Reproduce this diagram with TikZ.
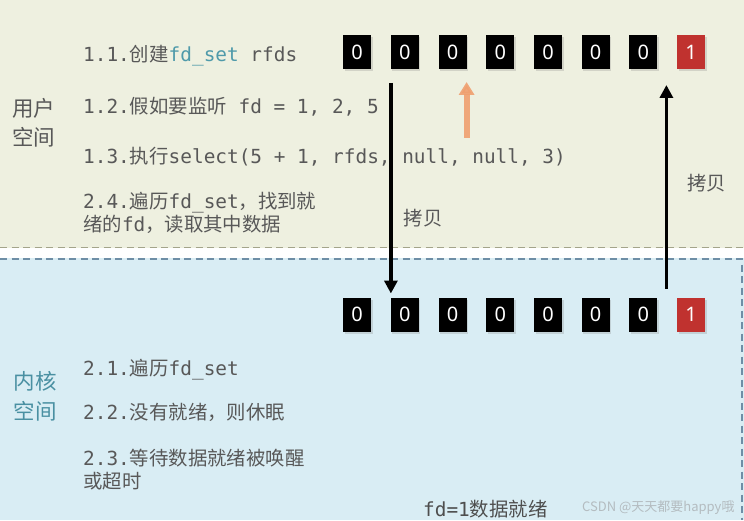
\documentclass[tikz,border=0pt]{standalone}
\usepackage{fontspec}
\setmonofont{DejaVu Sans Mono}
\newfontfamily\cjk{Noto Sans CJK SC}
\newfontfamily\cellfont{Noto Sans}
\usetikzlibrary{matrix, positioning, arrows.meta, shadows}
\definecolor{usrbg}{HTML}{EEF0E0}
\definecolor{kernbg}{HTML}{D9EDF4}
\definecolor{olivedash}{HTML}{A3A48A}
\definecolor{bluedash}{HTML}{6E8EA6}
\definecolor{textgray}{HTML}{585858}
\definecolor{readygray}{HTML}{4E4E4E}
\definecolor{fdteal}{HTML}{4F9AAA}
\definecolor{kernteal}{HTML}{4A90A2}
\definecolor{bitred}{HTML}{C0322F}
\definecolor{pullorange}{HTML}{F0A070}
\definecolor{markgray}{HTML}{B4BCC0}
\newcommand{\zh}[1]{{\cjk #1}}
\tikzset{
		bit nodes/.style={
			rectangle,
			fill=black,
			text=white,
			font=\cellfont\fontsize{20}{20}\selectfont,
			minimum width=28pt,
			minimum height=34pt,
			inner sep=0pt,
			outer sep=0pt,
			drop shadow={opacity=0.25, shadow xshift=1.5pt, shadow yshift=-2pt}
		},
		ready bit/.style={fill=bitred},
		bit row/.style={
			matrix of nodes,
			inner sep=0pt,
			column sep=19.7pt,
			nodes={
				bit nodes
			}
		},
		step text/.style={
			anchor=west,
			inner sep=0pt,
			align=left,
			text=textgray,
			font=\ttfamily\fontsize{19.4}{22.5}\selectfont
		},
		space label/.style={
			align=center,
			inner sep=0pt,
			font=\cjk\fontsize{21.5}{29.5}\selectfont
		},
		copy arrow/.style={line width=3.6pt, -{Triangle[length=13pt,width=13pt]}},
		copy label/.style={inner sep=0pt, text=textgray, font=\cjk\fontsize{19.4}{19.4}\selectfont},
		pull arrow/.style={line width=6pt, pullorange, opacity=0.9, -{Triangle[length=13pt,width=15pt]}},
		dashed border/.style={line width=1.5pt, dash pattern=on 7pt off 4.5pt}
	}
\begin{document}
\begin{tikzpicture}[x=1pt, y=-1pt]
			\useasboundingbox (0,0) rectangle (744,520);
			% user space and kernel space
			\fill[usrbg] (0,0) rectangle (744,248);
			\fill[white] (0,248) rectangle (744,258);
			\fill[kernbg] (0,258) rectangle (744,520);
			\draw[olivedash, dashed border] (0,247.5) -- (744,247.5);
			\draw[bluedash, dashed border] (0,259) -- (742,259) -- (742,520);
			\node[space label, text=textgray] (usrlbl) at (34,122.8) {用户\\空间};
			\node[space label, text=kernteal] (kernlbl) at (35,396.5) {内核\\空间};
			\node[step text] (s11) at (83,55.5) {1.1.\zh{创建}\textcolor{fdteal}{fd\_set} rfds};
			\node[step text] (s12) at (83,107) {1.2.\zh{假如要监听} fd = 1, 2, 5};
			\node[step text] (s13) at (83,157) {1.3.\zh{执行}select(5 + 1, rfds, null, null, 3)};
			\node[step text] (s24) at (83,213) {2.4.\zh{遍历}fd\_set\zh{，找到就}\\\zh{绪的}fd\zh{，读取其中数据}};
			\node[step text] (s21) at (83,370) {2.1.\zh{遍历}fd\_set};
			\node[step text] (s22) at (83,412) {2.2.\zh{没有就绪，则休眠}};
			\node[step text] (s23) at (83,469.5) {2.3.\zh{等待数据就绪被唤醒}\\\zh{或超时}};
			\node[step text, text=readygray] (ready) at (423,509) {fd=1\zh{数据就绪}};
			\node[anchor=west, inner sep=0pt, text=markgray, font=\cjk\fontsize{13}{13}\selectfont] (mark) at (582,508) {CSDN @天天都要happy哦};
			\matrix (user) [bit row, anchor=west] at (343,52)
				{ 0 & 0 & 0 & 0 & 0 & 0 & 0 & |[ready bit]| 1 \\};
			\matrix (kern) [bit row, anchor=west] at (343,314.5)
				{ 0 & 0 & 0 & 0 & 0 & 0 & 0 & |[ready bit]| 1 \\};
			\draw[copy arrow] ([yshift=-14pt]user-1-2.south west) -- ([yshift=4pt]kern-1-2.north west)
				node[copy label, pos=0.64, right=11pt] (cpdown) {拷贝};
			\draw[copy arrow] ([xshift=9pt, yshift=9pt]kern-1-7.north east) -- ([xshift=9pt, yshift=-16pt]user-1-7.south east)
				node[copy label, pos=0.52, right=19pt] (cpup) {拷贝};
			\coordinate (pulltail) at ([yshift=-69pt]user-1-3.south east);
			\draw[pull arrow] (pulltail) -- ([yshift=-13pt]user-1-3.south east);
		\end{tikzpicture}
\end{document}
